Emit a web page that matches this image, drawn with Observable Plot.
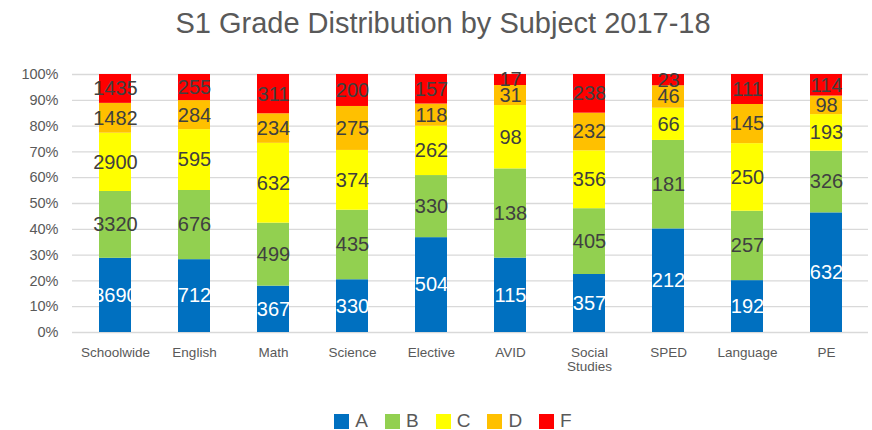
<!DOCTYPE html>
<html>
<head>
<meta charset="utf-8">
<script src="https://cdn.jsdelivr.net/npm/d3@7"></script>
<script src="https://cdn.jsdelivr.net/npm/@observablehq/plot@0.6"></script>
<style>
  body { margin: 0; background: #fff; font-family: "Liberation Sans", Arial, sans-serif; }
  #wrap { width: 872px; height: 430px; position: relative; overflow: hidden; }
  #title { height: 50px; line-height: 46px; text-align: center; font-size: 29px; color: #595959; padding-left: 14px; }
  #legend { height: 20px; padding-top: 26px; display: flex; justify-content: center; align-items: center; gap: 17px; font-size: 19px; color: #595959; padding-left: 34px; }
  .item { display: flex; align-items: center; gap: 6px; }
  .sw { width: 15px; height: 15px; display: inline-block; }
</style>
</head>
<body>
<div id="wrap">
  <div id="title">S1 Grade Distribution by Subject 2017-18</div>
  <div id="chart"></div>
  <div id="legend"></div>
</div>
<script>
const subjects = ["Schoolwide", "English", "Math", "Science", "Elective", "AVID", "Social Studies", "SPED", "Language", "PE"];
const grades = ["A", "B", "C", "D", "F"];
const gradeA = [3690, 712, 367, 330, 504, 115, 357, 212, 192, 632];
const gradeB = [3320, 676, 499, 435, 330, 138, 405, 181, 257, 326];
const gradeC = [2900, 595, 632, 374, 262, 98, 356, 66, 250, 193];
const gradeD = [1482, 284, 234, 275, 118, 31, 232, 46, 145, 98];
const gradeF = [1435, 255, 311, 200, 157, 17, 238, 23, 111, 114];
const colors = ["#0070C0", "#92D050", "#FFFF00", "#FFC000", "#FF0000"];
const yTicks = [0, 0.1, 0.2, 0.3, 0.4, 0.5, 0.6, 0.7, 0.8, 0.9, 1];

const series = [gradeA, gradeB, gradeC, gradeD, gradeF];
const data = [];
grades.forEach((g, gi) => {
  subjects.forEach((s, si) => data.push({subject: s, grade: g, value: series[gi][si]}));
});

const stackOpts = {x: "subject", y: "value", z: "grade", offset: "normalize", order: grades};

const chart = Plot.plot({
  width: 872,
  height: 335,
  marginTop: 24,
  marginBottom: 53,
  marginLeft: 72,
  marginRight: 4,
  style: {fontFamily: "Liberation Sans, Arial, sans-serif", background: "transparent"},
  x: {domain: subjects, paddingInner: 0.6, paddingOuter: 0.3, label: null},
  y: {domain: [0, 1], label: null},
  color: {domain: grades, range: colors},
  marks: [
    Plot.gridY(yTicks, {stroke: "#d9d9d9", strokeOpacity: 1, strokeWidth: 1.3}),
    Plot.axisY(yTicks, {tickFormat: d => Math.round(d * 100) + "%", tickSize: 0, tickPadding: 14, fontSize: 14.5, fill: "#595959"}),
    Plot.axisX({tickSize: 0, tickPadding: 15, fontSize: 13.5, fill: "#595959", lineWidth: 6, label: null}),
    Plot.barY(data, Plot.stackY({...stackOpts, fill: "grade"})),
    Plot.text(data, Plot.stackY({...stackOpts, text: d => String(d.value), fontSize: 20,
      fill: d => d.grade === "A" ? "#ffffff" : "#404040"}))
  ]
});
document.getElementById("chart").appendChild(chart);

const legend = document.getElementById("legend");
grades.forEach((g, i) => {
  const it = document.createElement("span");
  it.className = "item";
  it.innerHTML = `<span class="sw" style="background:${colors[i]}"></span><span>${g}</span>`;
  legend.appendChild(it);
});
</script>
</body>
</html>
